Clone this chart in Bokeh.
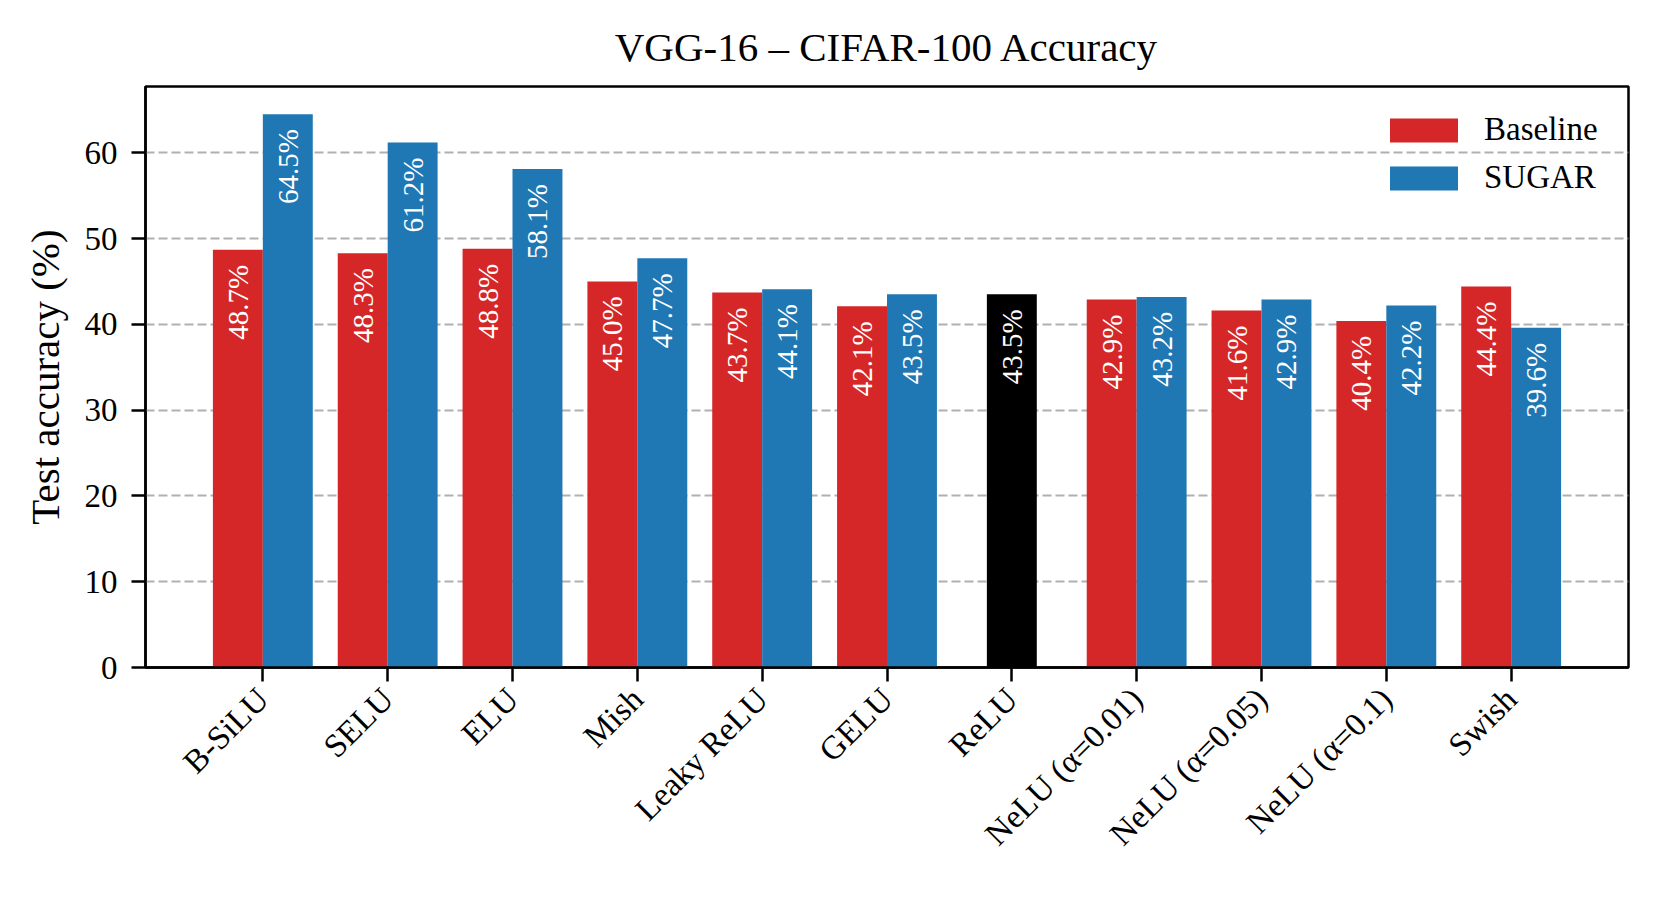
import math
from bokeh.plotting import figure
from bokeh.models import ColumnDataSource, Range1d, FixedTicker, Legend, LegendItem, LabelSet
from bokeh.core.properties import value
from bokeh.embed import file_html
from bokeh.resources import INLINE

# ---------------- data ----------------
categories = ["B-SiLU", "SELU", "ELU", "Mish", "Leaky ReLU", "GELU", "ReLU",
              "NeLU (α=0.01)", "NeLU (α=0.05)", "NeLU (α=0.1)", "Swish"]
baseline = [48.7, 48.3, 48.8, 45.0, 43.7, 42.1, None, 42.9, 41.6, 40.4, 44.4]
sugar = [64.5, 61.2, 58.1, 47.7, 44.1, 43.5, None, 43.2, 42.9, 42.2, 39.6]
relu_category = "ReLU"
relu_value = 43.5
y_ticks = [0, 10, 20, 30, 40, 50, 60]

FONT = "Liberation Serif"
RED = "#d62728"
BLUE = "#1f77b4"
BAR_W = 0.4

def build(vals, shift):
    xs, ys, labels = [], [], []
    for i, v in enumerate(vals):
        if v is None:
            continue
        xs.append(i + shift)
        ys.append(v)
        labels.append(f"{v:.1f}%")
    return ColumnDataSource(dict(x=xs, top=ys, label=labels))

src_base = build(baseline, -BAR_W / 2)
src_sugar = build(sugar, BAR_W / 2)
relu_idx = categories.index(relu_category)
src_relu = ColumnDataSource(dict(x=[relu_idx], top=[relu_value], label=[f"{relu_value:.1f}%"]))

ymax = max(v for v in baseline + sugar + [relu_value] if v is not None) * 1.05
p = figure(width=1652, height=892,
           x_range=Range1d(-0.94, len(categories) - 1 + 0.94),
           y_range=Range1d(0, ymax),
           output_backend="svg", toolbar_location=None,
           min_border_left=145, min_border_right=24,
           min_border_top=86, min_border_bottom=225)

p.background_fill_color = "white"
p.border_fill_color = "white"
p.outline_line_color = "black"
p.outline_line_width = 2.5

# title
p.title.text = "VGG-16 – CIFAR-100 Accuracy"
p.title.text_font = FONT
p.title.text_font_size = "41px"
p.title.text_font_style = "normal"
p.title.text_color = "black"
p.title.align = "center"
p.title.standoff = 33

# bars
r_base = p.vbar(x="x", top="top", width=BAR_W, source=src_base, fill_color=RED, line_color=None)
r_sugar = p.vbar(x="x", top="top", width=BAR_W, source=src_sugar, fill_color=BLUE, line_color=None)
p.vbar(x="x", top="top", width=BAR_W, source=src_relu, fill_color="black", line_color=None)

# value labels
for src in (src_base, src_sugar, src_relu):
    lbl = LabelSet(x="x", y="top", text="label", source=src, angle=math.pi / 2,
                   text_align="right", text_baseline="middle", y_offset=-15,
                   text_color="white", text_font=value(FONT), text_font_size="29px")
    p.add_layout(lbl)

# axes
xa = p.xaxis[0]
xa.ticker = FixedTicker(ticks=list(range(len(categories))))
xa.major_label_overrides = {i: c for i, c in enumerate(categories)}
xa.major_label_orientation = math.pi / 4
ya = p.yaxis[0]
ya.ticker = FixedTicker(ticks=y_ticks)
ya.axis_label = "Test accuracy (%)"
ya.axis_label_text_font = FONT
ya.axis_label_text_font_size = "41px"
ya.axis_label_text_font_style = "normal"
ya.axis_label_text_color = "black"
ya.axis_label_standoff = 14

for ax in (xa, ya):
    ax.axis_line_width = 2.5
    ax.axis_line_color = "black"
    ax.major_tick_line_width = 2.5
    ax.major_tick_line_color = "black"
    ax.major_tick_out = 14
    ax.major_tick_in = 0
    ax.minor_tick_line_color = None
    ax.major_label_text_font = FONT
    ax.major_label_text_font_size = "33px"
    ax.major_label_text_color = "black"
xa.major_label_standoff = 12
ya.major_label_standoff = 14

# grid
p.xgrid.grid_line_color = None
p.ygrid.grid_line_color = "#b0b0b0"
p.ygrid.grid_line_width = 2
p.ygrid.grid_line_dash = "9 4"

# legend
legend = Legend(items=[LegendItem(label="Baseline", renderers=[r_base]),
                       LegendItem(label="SUGAR", renderers=[r_sugar])],
                location=(1236, 471))
legend.background_fill_alpha = 0
legend.border_line_color = None
legend.label_text_font = FONT
legend.label_text_font_size = "33px"
legend.label_text_color = "black"
legend.glyph_width = 85
legend.glyph_height = 30
legend.label_standoff = 18
legend.label_height = 30
legend.spacing = 11
legend.padding = 0
legend.margin = 0
p.add_layout(legend)

open("out.html", "w").write(file_html(p, INLINE))
